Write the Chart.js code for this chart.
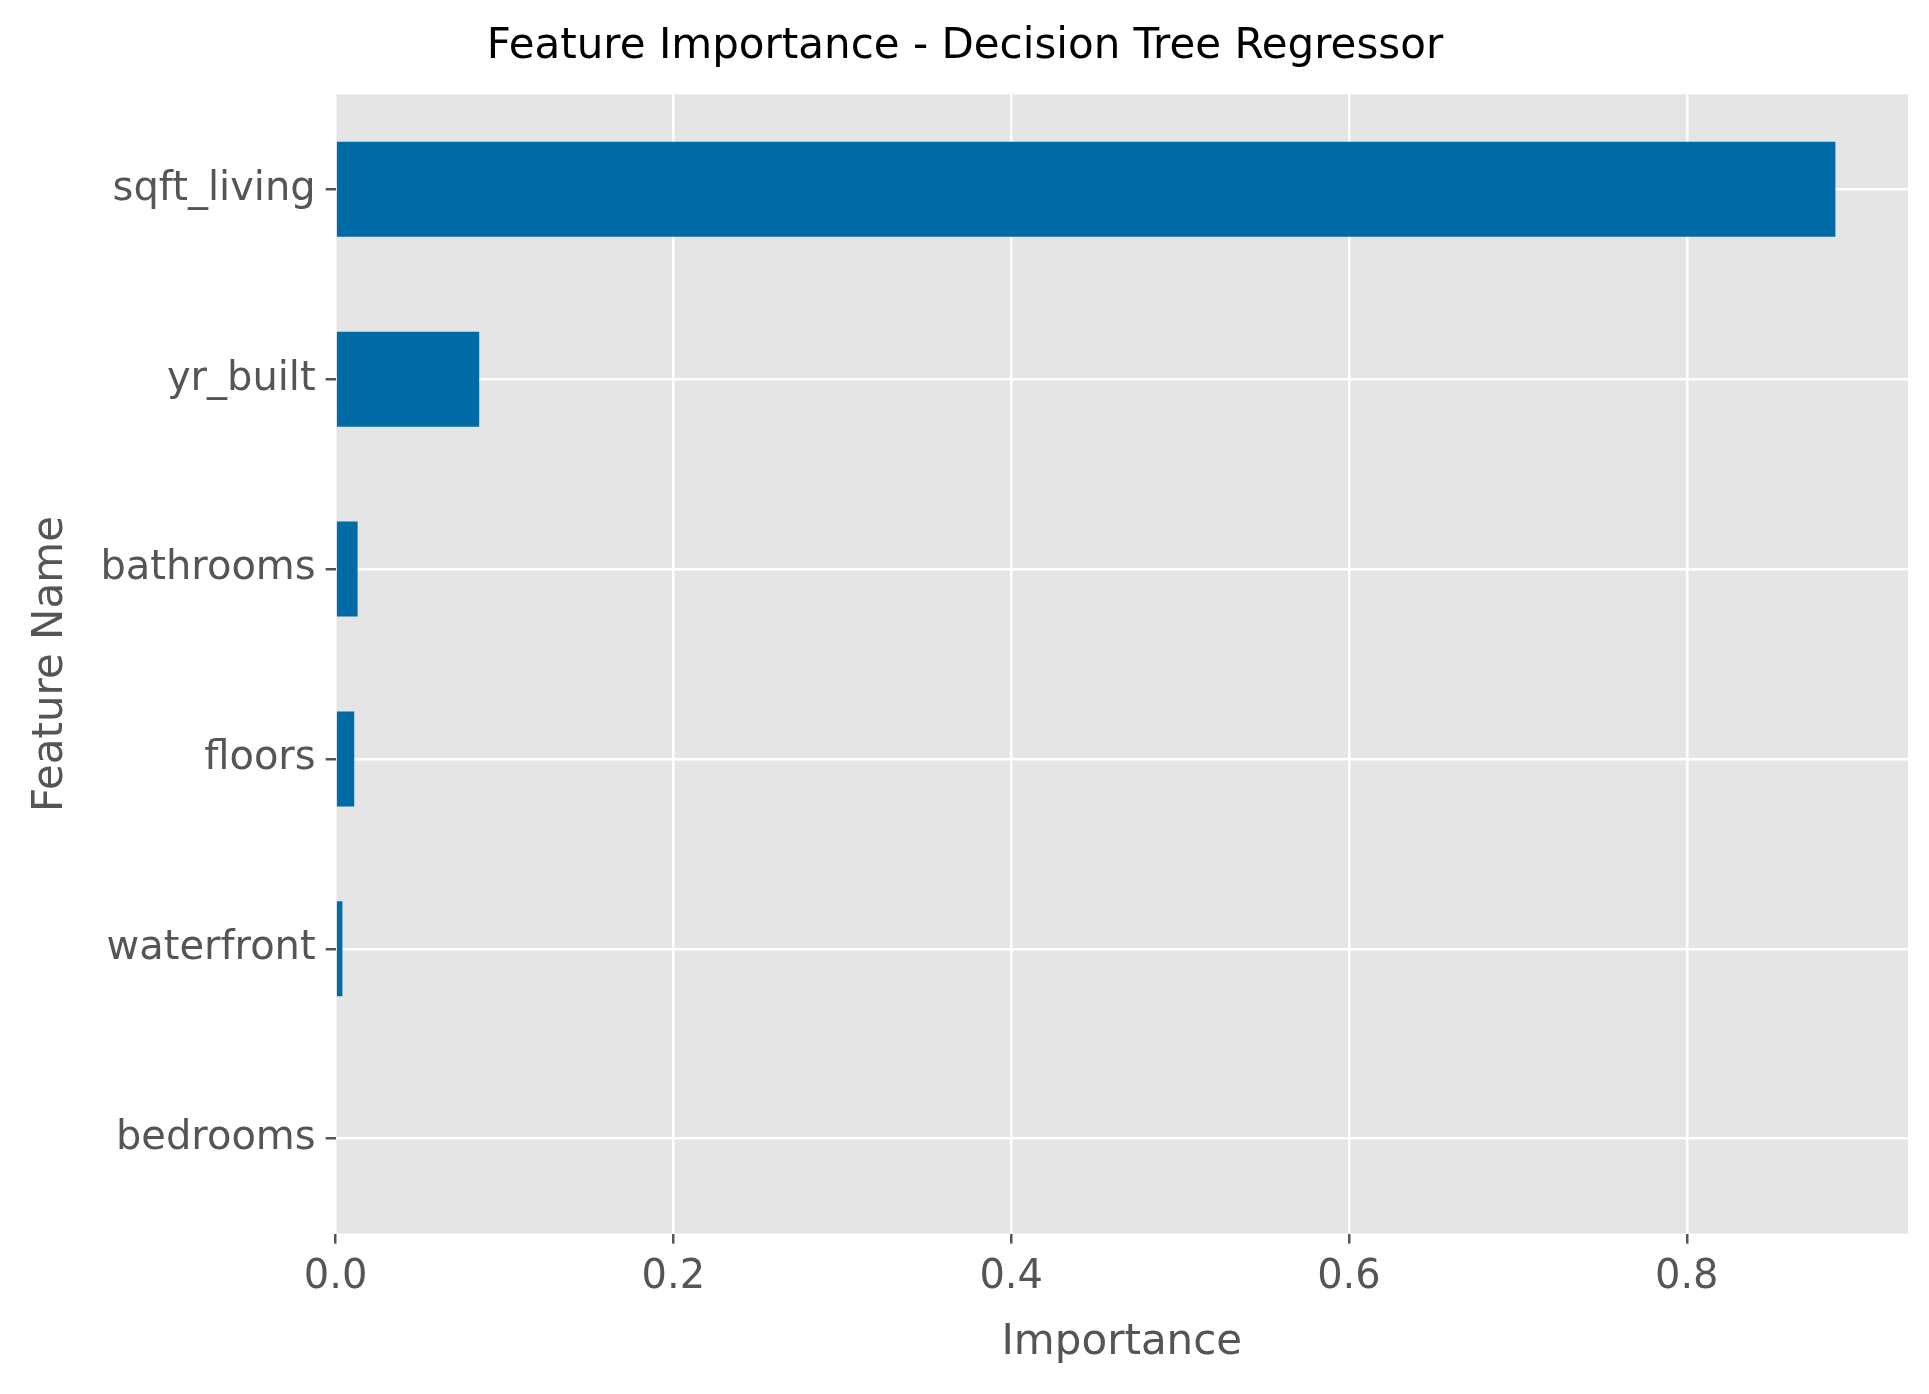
<!DOCTYPE html>
<html>
<head>
<meta charset="utf-8">
<script src="https://cdn.jsdelivr.net/npm/chart.js@4"></script>
<style>
  html, body { margin: 0; padding: 0; background: #fff; }
  #wrap { width: 1929px; height: 1394px; }
</style>
</head>
<body>
<div id="wrap"><canvas id="fiChart"></canvas></div>
<script>
const features = ["sqft_living", "yr_built", "bathrooms", "floors", "waterfront", "bedrooms"];
const importance = [0.888, 0.085, 0.013, 0.011, 0.004, 0.0];
const xTicks = [0, 0.2, 0.4, 0.6, 0.8];

// grey panel behind the plot, like the ggplot style
const panelBg = {
  id: "panelBg",
  beforeDraw(chart) {
    const a = chart.chartArea, c = chart.ctx;
    c.save();
    c.fillStyle = "#e5e5e5";
    c.fillRect(a.left, a.top, a.right - a.left, a.bottom - a.top);
    c.restore();
  }
};

const ctx = document.getElementById("fiChart").getContext("2d");
new Chart(ctx, {
  type: "bar",
  data: {
    labels: features,
    datasets: [{
      data: importance,
      backgroundColor: "#006ba4",
      barPercentage: 0.5,
      categoryPercentage: 1.0
    }]
  },
  options: {
    indexAxis: "y",
    responsive: true,
    maintainAspectRatio: false,
    animation: false,
    layout: { padding: { top: 0, right: 21, bottom: 22, left: 22 } },
    plugins: {
      legend: { display: false },
      tooltip: { enabled: false },
      title: {
        display: true,
        text: "Feature Importance - Decision Tree Regressor",
        color: "#000",
        font: { family: "DejaVu Sans", size: 42, weight: "normal" },
        padding: { top: 22, bottom: 22 }
      }
    },
    scales: {
      x: {
        min: 0, max: 0.931,
        afterBuildTicks(axis) { axis.ticks = xTicks.map(v => ({ value: v })); },
        grid: { color: "#fff", lineWidth: 2.5, tickColor: "#555", tickLength: 10, drawTicks: true },
        border: { display: false },
        ticks: {
          color: "#555", padding: 10,
          font: { family: "DejaVu Sans", size: 40 },
          callback: v => v.toFixed(1)
        },
        title: {
          display: true, text: "Importance", color: "#555",
          font: { family: "DejaVu Sans", size: 42 }, padding: { top: 6 }
        }
      },
      y: {
        grid: { offset: false, color: "#fff", lineWidth: 2.5, tickColor: "#555", tickLength: 10 },
        border: { display: false },
        ticks: { color: "#555", padding: 10, font: { family: "DejaVu Sans", size: 40 } },
        title: {
          display: true, text: "Feature Name", color: "#555",
          font: { family: "DejaVu Sans", size: 42 }, padding: { bottom: 14 }
        }
      }
    }
  },
  plugins: [panelBg]
});
</script>
</body>
</html>
